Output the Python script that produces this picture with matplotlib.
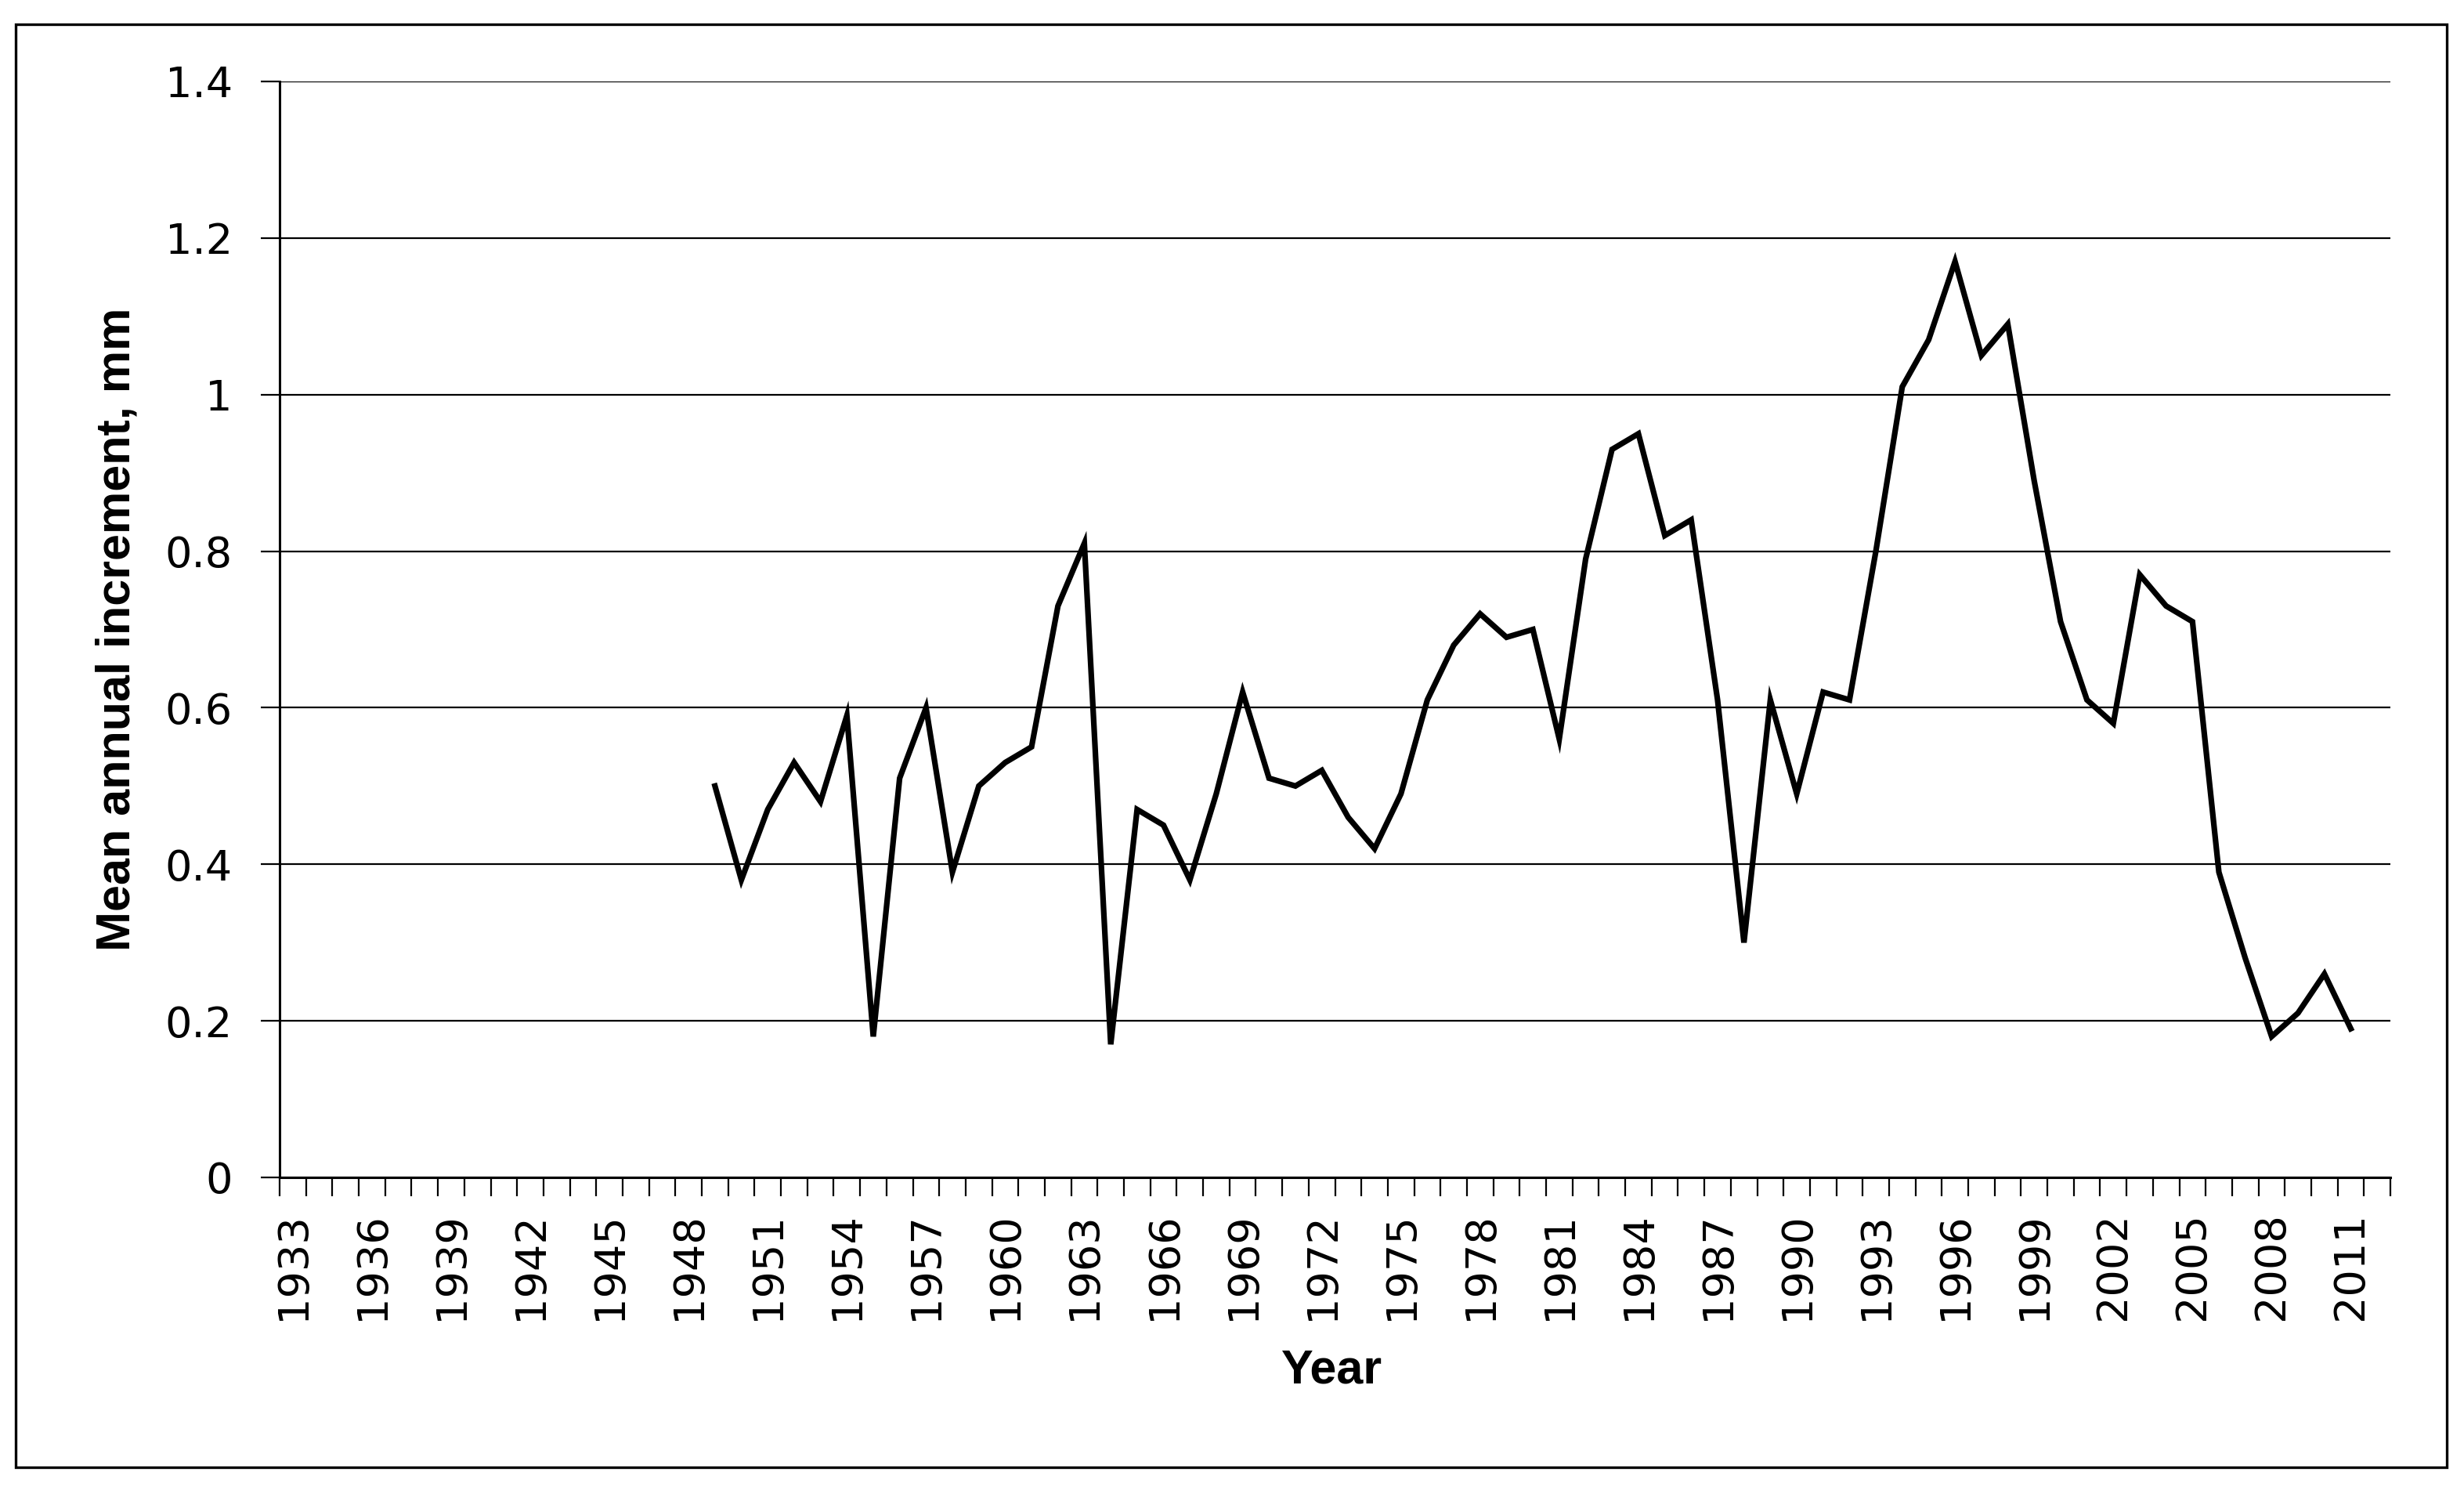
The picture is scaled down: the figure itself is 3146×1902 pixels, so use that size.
import numpy as np
import matplotlib
matplotlib.use("Agg")
import matplotlib.pyplot as plt
from matplotlib.patches import Rectangle

# Category axis runs 1933-2012 (last category empty); measurements start in 1949.
years = list(range(1933, 2013))
data_years = list(range(1949, 2012))
increment = [
    0.50, 0.38, 0.47, 0.53, 0.48, 0.59, 0.18, 0.51, 0.60, 0.39,  # 1949-1958
    0.50, 0.53, 0.55, 0.73, 0.81, 0.17, 0.47, 0.45, 0.38, 0.49,  # 1959-1968
    0.62, 0.51, 0.50, 0.52, 0.46, 0.42, 0.49, 0.61, 0.68, 0.72,  # 1969-1978
    0.69, 0.70, 0.56, 0.79, 0.93, 0.95, 0.82, 0.84, 0.61, 0.30,  # 1979-1988
    0.61, 0.49, 0.62, 0.61, 0.80, 1.01, 1.07, 1.17, 1.05, 1.09,  # 1989-1998
    0.89, 0.71, 0.61, 0.58, 0.77, 0.73, 0.71, 0.39, 0.28, 0.18,  # 1999-2008
    0.21, 0.26, 0.19,                                            # 2009-2011
]
y_ticks = [0, 0.2, 0.4, 0.6, 0.8, 1.0, 1.2, 1.4]
y_tick_labels = ["0", "0.2", "0.4", "0.6", "0.8", "1", "1.2", "1.4"]

W, H, DPI = 3146, 1902, 200
fig = plt.figure(figsize=(W / DPI, H / DPI), dpi=DPI)

# outer chart border
fig.patches.append(Rectangle((20 / W, 1 - 1873 / H), (3124 - 20) / W, (1873 - 31) / H,
                             transform=fig.transFigure, fill=False,
                             edgecolor="black", linewidth=1.2))

ax = fig.add_axes([357 / W, 1 - 1503 / H, (3052 - 357) / W, (1503 - 104) / H])

x_pos = [years.index(y) for y in data_years]
ax.plot(x_pos, increment, color="black", linewidth=2.6, solid_joinstyle="miter")

ax.set_xlim(-0.5, len(years) - 0.5)
ax.set_ylim(0, 1.4)

# tick marks between categories, labels on every third year
ax.set_xticks(np.arange(-0.5, len(years), 1.0))
ax.set_xticklabels([])
ax.set_xticks(range(0, len(years), 3), minor=True)
ax.set_xticklabels([str(y) for y in years[::3]], minor=True, rotation=90,
                   fontsize=19.5, family="DejaVu Sans")
ax.tick_params(axis="x", which="major", direction="out", length=8.6, width=0.8)
ax.tick_params(axis="x", which="minor", length=0, pad=16)

ax.set_yticks(y_ticks)
ax.set_yticklabels(y_tick_labels, fontsize=19.5, family="DejaVu Sans")
ax.tick_params(axis="y", direction="out", length=8.6, width=0.8, pad=13)

ax.yaxis.grid(True, color="black", linewidth=0.8)
ax.set_axisbelow(True)
for side in ("top", "right"):
    ax.spines[side].set_visible(False)
for side in ("left", "bottom"):
    ax.spines[side].set_linewidth(1.1)

fig.text(150 / W, 1 - 803 / H, "Mean annual increment, mm", rotation=90,
         ha="center", va="center", fontsize=22, fontweight="bold",
         family="Liberation Sans")
fig.text(1701 / W, 1 - 1750 / H, "Year", ha="center", va="center",
         fontsize=22, fontweight="bold", family="Liberation Sans")

fig.savefig("out.png", dpi=DPI)
